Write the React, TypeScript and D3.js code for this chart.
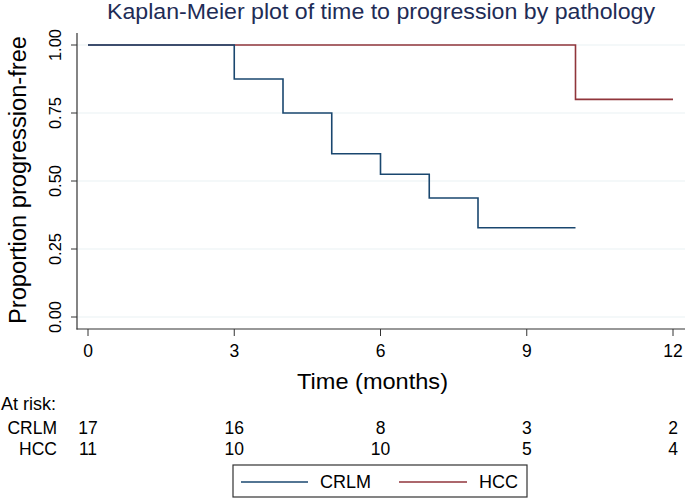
import React from "react";
import * as d3 from "d3";

const crlmTimes = [0, 3, 4, 5, 6, 7, 8, 10];
const crlmSurv = [1, 0.875, 0.75, 0.6, 0.525, 0.4375, 0.328, 0.328];
const hccTimes = [0, 10, 12];
const hccSurv = [1, 0.8, 0.8];
const xTicks = [0, 3, 6, 9, 12];
const yTicks = [0, 0.25, 0.5, 0.75, 1];
const riskCRLM = [17, 16, 8, 3, 2];
const riskHCC = [11, 10, 10, 5, 4];
const seriesNames = ["CRLM", "HCC"];
const seriesColors = ["#1a476f", "#90353b"];

const W = 685;
const H = 499;
const font = "Liberation Sans, Arial, Helvetica, sans-serif";

export default function App() {
  const x = d3.scaleLinear().domain([0, 12]).range([88, 673]);
  const y = d3.scaleLinear().domain([0, 1]).range([317, 45]);
  const line = d3
    .line<[number, number]>()
    .x((d) => x(d[0]))
    .y((d) => y(d[1]))
    .curve(d3.curveStepAfter);
  const crlm: [number, number][] = crlmTimes.map((t, i) => [t, crlmSurv[i]]);
  const hcc: [number, number][] = hccTimes.map((t, i) => [t, hccSurv[i]]);
  const axisColor = "#333";
  return (
    <svg
      width={W}
      height={H}
      style={{ position: "absolute", left: 0, top: 0, background: "#fff" }}
      fontFamily={font}
    >
      <rect width={W} height={H} fill="#fff" />
      <text x={107} y={19} fontSize={22} fill="#1e2c56" textLength={548} lengthAdjust="spacingAndGlyphs">
        Kaplan-Meier plot of time to progression by pathology
      </text>
      {/* gridlines */}
      {yTicks.map((t) => (
        <line key={"g" + t} x1={77} x2={685} y1={y(t)} y2={y(t)} stroke="#eaf2f3" strokeWidth={1.2} />
      ))}
      {/* axes */}
      <line x1={77} x2={77} y1={33} y2={329.5} stroke={axisColor} strokeWidth={1.2} />
      <line x1={76.5} x2={685} y1={329} y2={329} stroke={axisColor} strokeWidth={1.2} />
      {yTicks.map((t) => (
        <g key={"y" + t}>
          <line x1={71} x2={77} y1={y(t)} y2={y(t)} stroke={axisColor} strokeWidth={1} />
          <text
            transform={`translate(61,${y(t)}) rotate(-90)`}
            textAnchor="middle"
            fontSize={16.5}
            fill="#000"
          >
            {t.toFixed(2)}
          </text>
        </g>
      ))}
      {xTicks.map((t) => (
        <g key={"x" + t}>
          <line x1={x(t)} x2={x(t)} y1={329} y2={336} stroke={axisColor} strokeWidth={1} />
          <text x={x(t)} y={357} textAnchor="middle" fontSize={17.5} fill="#000">
            {t}
          </text>
        </g>
      ))}
      <text x={297} y={389} fontSize={21.5} fill="#000" textLength={151} lengthAdjust="spacingAndGlyphs">
        Time (months)
      </text>
      <text
        transform={`translate(26,324) rotate(-90)`}
        fontSize={23}
        fill="#000"
        textLength={288}
        lengthAdjust="spacingAndGlyphs"
      >
        Proportion progression-free
      </text>
      {/* curves */}
      <path d={line(hcc) || ""} fill="none" stroke={seriesColors[1]} strokeWidth={1.6} />
      <path d={line(crlm) || ""} fill="none" stroke={seriesColors[0]} strokeWidth={1.6} />
      {/* at risk */}
      <text x={1} y={410} fontSize={18} fill="#000">At risk:</text>
      <text x={57} y={434} textAnchor="end" fontSize={17.5} fill="#000">{seriesNames[0]}</text>
      <text x={57} y={455} textAnchor="end" fontSize={17.5} fill="#000">{seriesNames[1]}</text>
      {xTicks.map((t, i) => (
        <g key={"r" + t}>
          <text x={x(t)} y={434} textAnchor="middle" fontSize={17.5} fill="#000">{riskCRLM[i]}</text>
          <text x={x(t)} y={455} textAnchor="middle" fontSize={17.5} fill="#000">{riskHCC[i]}</text>
        </g>
      ))}
      {/* legend */}
      <rect x={233} y={465} width={294} height={32} fill="#fff" stroke="#333" strokeWidth={1.2} />
      <line x1={241} x2={308} y1={482} y2={482} stroke={seriesColors[0]} strokeWidth={1.6} />
      <text x={320} y={488} fontSize={18} fill="#000">{seriesNames[0]}</text>
      <line x1={399} x2={467} y1={482} y2={482} stroke={seriesColors[1]} strokeWidth={1.6} />
      <text x={479} y={488} fontSize={18} fill="#000">{seriesNames[1]}</text>
    </svg>
  );
}
